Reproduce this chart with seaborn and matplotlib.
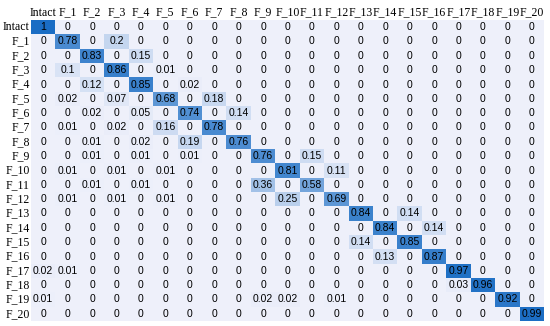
import matplotlib
matplotlib.use('Agg')
import matplotlib.pyplot as plt
from matplotlib.colors import LinearSegmentedColormap
import seaborn as sns
import numpy as np
import pandas as pd

labels = ['Intact'] + [f'F_{i}' for i in range(1, 21)]

# non-zero entries of the confusion matrix: (row, col, value)
entries = [
    (0, 0, 1),
    (1, 1, 0.78), (1, 3, 0.2),
    (2, 2, 0.83), (2, 4, 0.15),
    (3, 1, 0.1), (3, 3, 0.86), (3, 5, 0.01),
    (4, 2, 0.12), (4, 4, 0.85), (4, 6, 0.02),
    (5, 1, 0.02), (5, 3, 0.07), (5, 5, 0.68), (5, 7, 0.18),
    (6, 2, 0.02), (6, 4, 0.05), (6, 6, 0.74), (6, 8, 0.14),
    (7, 1, 0.01), (7, 3, 0.02), (7, 5, 0.16), (7, 7, 0.78),
    (8, 2, 0.01), (8, 4, 0.02), (8, 6, 0.19), (8, 8, 0.76),
    (9, 2, 0.01), (9, 4, 0.01), (9, 6, 0.01), (9, 9, 0.76), (9, 11, 0.15),
    (10, 1, 0.01), (10, 3, 0.01), (10, 5, 0.01), (10, 10, 0.81), (10, 12, 0.11),
    (11, 2, 0.01), (11, 4, 0.01), (11, 9, 0.36), (11, 11, 0.58),
    (12, 1, 0.01), (12, 3, 0.01), (12, 5, 0.01), (12, 10, 0.25), (12, 12, 0.69),
    (13, 13, 0.84), (13, 15, 0.14),
    (14, 14, 0.84), (14, 16, 0.14),
    (15, 13, 0.14), (15, 15, 0.85),
    (16, 14, 0.13), (16, 16, 0.87),
    (17, 0, 0.02), (17, 1, 0.01), (17, 17, 0.97),
    (18, 17, 0.03), (18, 18, 0.96),
    (19, 0, 0.01), (19, 9, 0.02), (19, 10, 0.02), (19, 12, 0.01), (19, 19, 0.92),
    (20, 20, 0.99),
]

mat = np.zeros((len(labels), len(labels)))
for r, c, v in entries:
    mat[r, c] = v
df = pd.DataFrame(mat, index=labels, columns=labels)

cmap = LinearSegmentedColormap.from_list('cm', ['#eef0fa', '#1a6dc4'])

fig = plt.figure(figsize=(5.5, 3.26), dpi=100)
ax = fig.add_axes([31 / 550, 1 - 321 / 326, 513 / 550, 301 / 326])

sns.heatmap(df, ax=ax, cmap=cmap, vmin=0, vmax=1, cbar=False,
            annot=True, fmt='g', xticklabels=labels, yticklabels=labels,
            annot_kws={'fontsize': 7.5, 'color': 'black', 'family': 'Liberation Sans'})

ax.xaxis.tick_top()
ax.tick_params(length=0, pad=1)
ax.set_xticklabels(labels, rotation=0, fontsize=8.5, family='Liberation Serif')
ax.set_yticklabels(labels, rotation=0, fontsize=8.5, family='Liberation Serif')
ax.set_xlabel('')
ax.set_ylabel('')

fig.savefig('out.png', dpi=100)
